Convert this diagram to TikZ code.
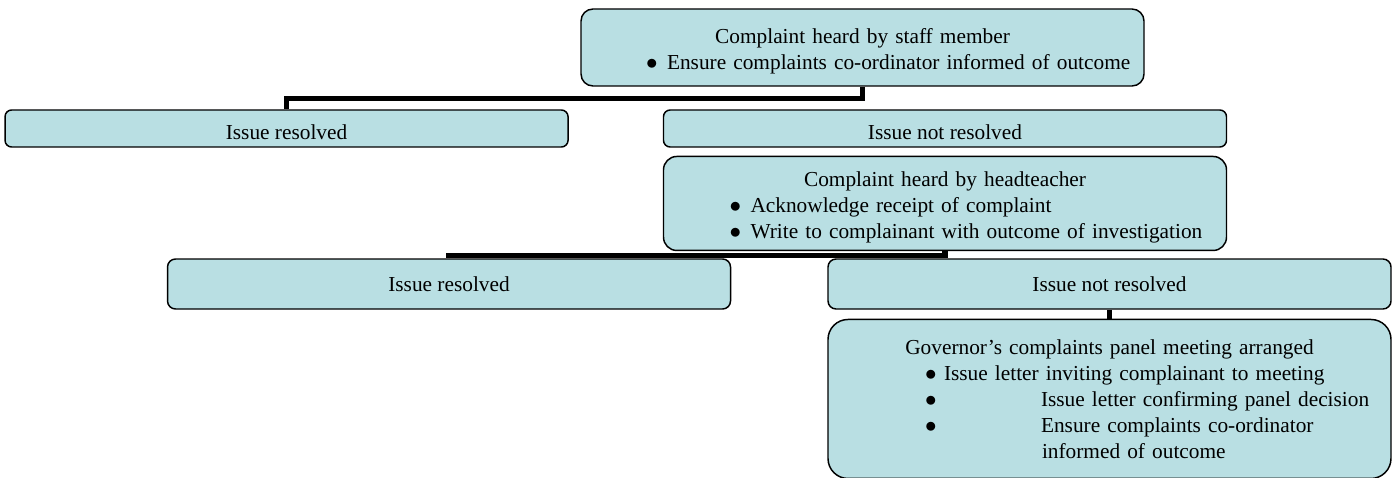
\documentclass[tikz,border=0pt]{standalone}
\usepackage{fontspec}
\setmainfont{Liberation Serif}
\usetikzlibrary{positioning}
\definecolor{boxblue}{RGB}{185,223,227}
\newlength{\px}\setlength{\px}{0.75pt}
\newcommand{\ctitle}[1]{\makebox[563\px]{#1}}
\newcommand{\bitem}[3]{\hspace*{#1\px}\makebox[#2\px][l]{$\bullet$}#3}

\begin{document}
\begin{tikzpicture}[
    x=0.75pt, y=-0.75pt,
    node distance = 8\px and 94\px,
    box/.style = {rectangle, rounded corners=5pt, draw=black, line width=1.1pt,
                  fill=boxblue, minimum width=563\px, minimum height=37\px,
                  inner sep=0pt, align=center, font=\fontsize{16pt}{19.5pt}\selectfont},
    listbox/.style = {box, text width=563\px, align=left},
    pad/.style = {execute at begin node=\rule{0pt}{17pt}},
    link/.style = {line width=4pt}
  ]
    \useasboundingbox (0,0) rectangle (1397,478);
    \node[listbox, pad, minimum height=77\px, rounded corners=9pt] (staff) at (862.5,47.5)
      {\ctitle{Complaint heard by staff member}\\
       \bitem{65}{21}{Ensure complaints co-ordinator informed of outcome}};
    \node[box, pad] (nr1) at (945,128.5) {Issue not resolved};
    \node[box, pad, left=94\px of nr1] (res1) {Issue resolved};
    \node[listbox, pad, below=of nr1, minimum height=94\px, rounded corners=10pt] (head)
      {\ctitle{Complaint heard by headteacher}\\
       \bitem{66}{21}{Acknowledge receipt of complaint}\\
       \bitem{66}{21}{Write to complainant with outcome of investigation}};
    \node[box, minimum height=50\px, rounded corners=6pt] (nr2) at (1109.5,284) {Issue not resolved};
    \node[box, minimum height=50\px, rounded corners=6pt, left=96\px of nr2] (res2) {Issue resolved};
    \node[listbox, below=9\px of nr2, minimum height=159\px, rounded corners=15pt] (gov)
      {\ctitle{Governor’s complaints panel meeting arranged}\\
       \bitem{97}{19}{Issue letter inviting complainant to meeting}\\
       \bitem{97}{116}{Issue letter confirming panel decision}\\
       \bitem{97}{116}{Ensure complaints co-ordinator}\\
       \hspace*{214\px}informed of outcome};
    \draw[link] (staff.south) -- ++(0,12) -| (res1.north);
    \draw[link] (head.south) -- ++(0,4) -| (res2.north);
    \draw[link] (nr2) -- (gov);
\end{tikzpicture}
\end{document}
